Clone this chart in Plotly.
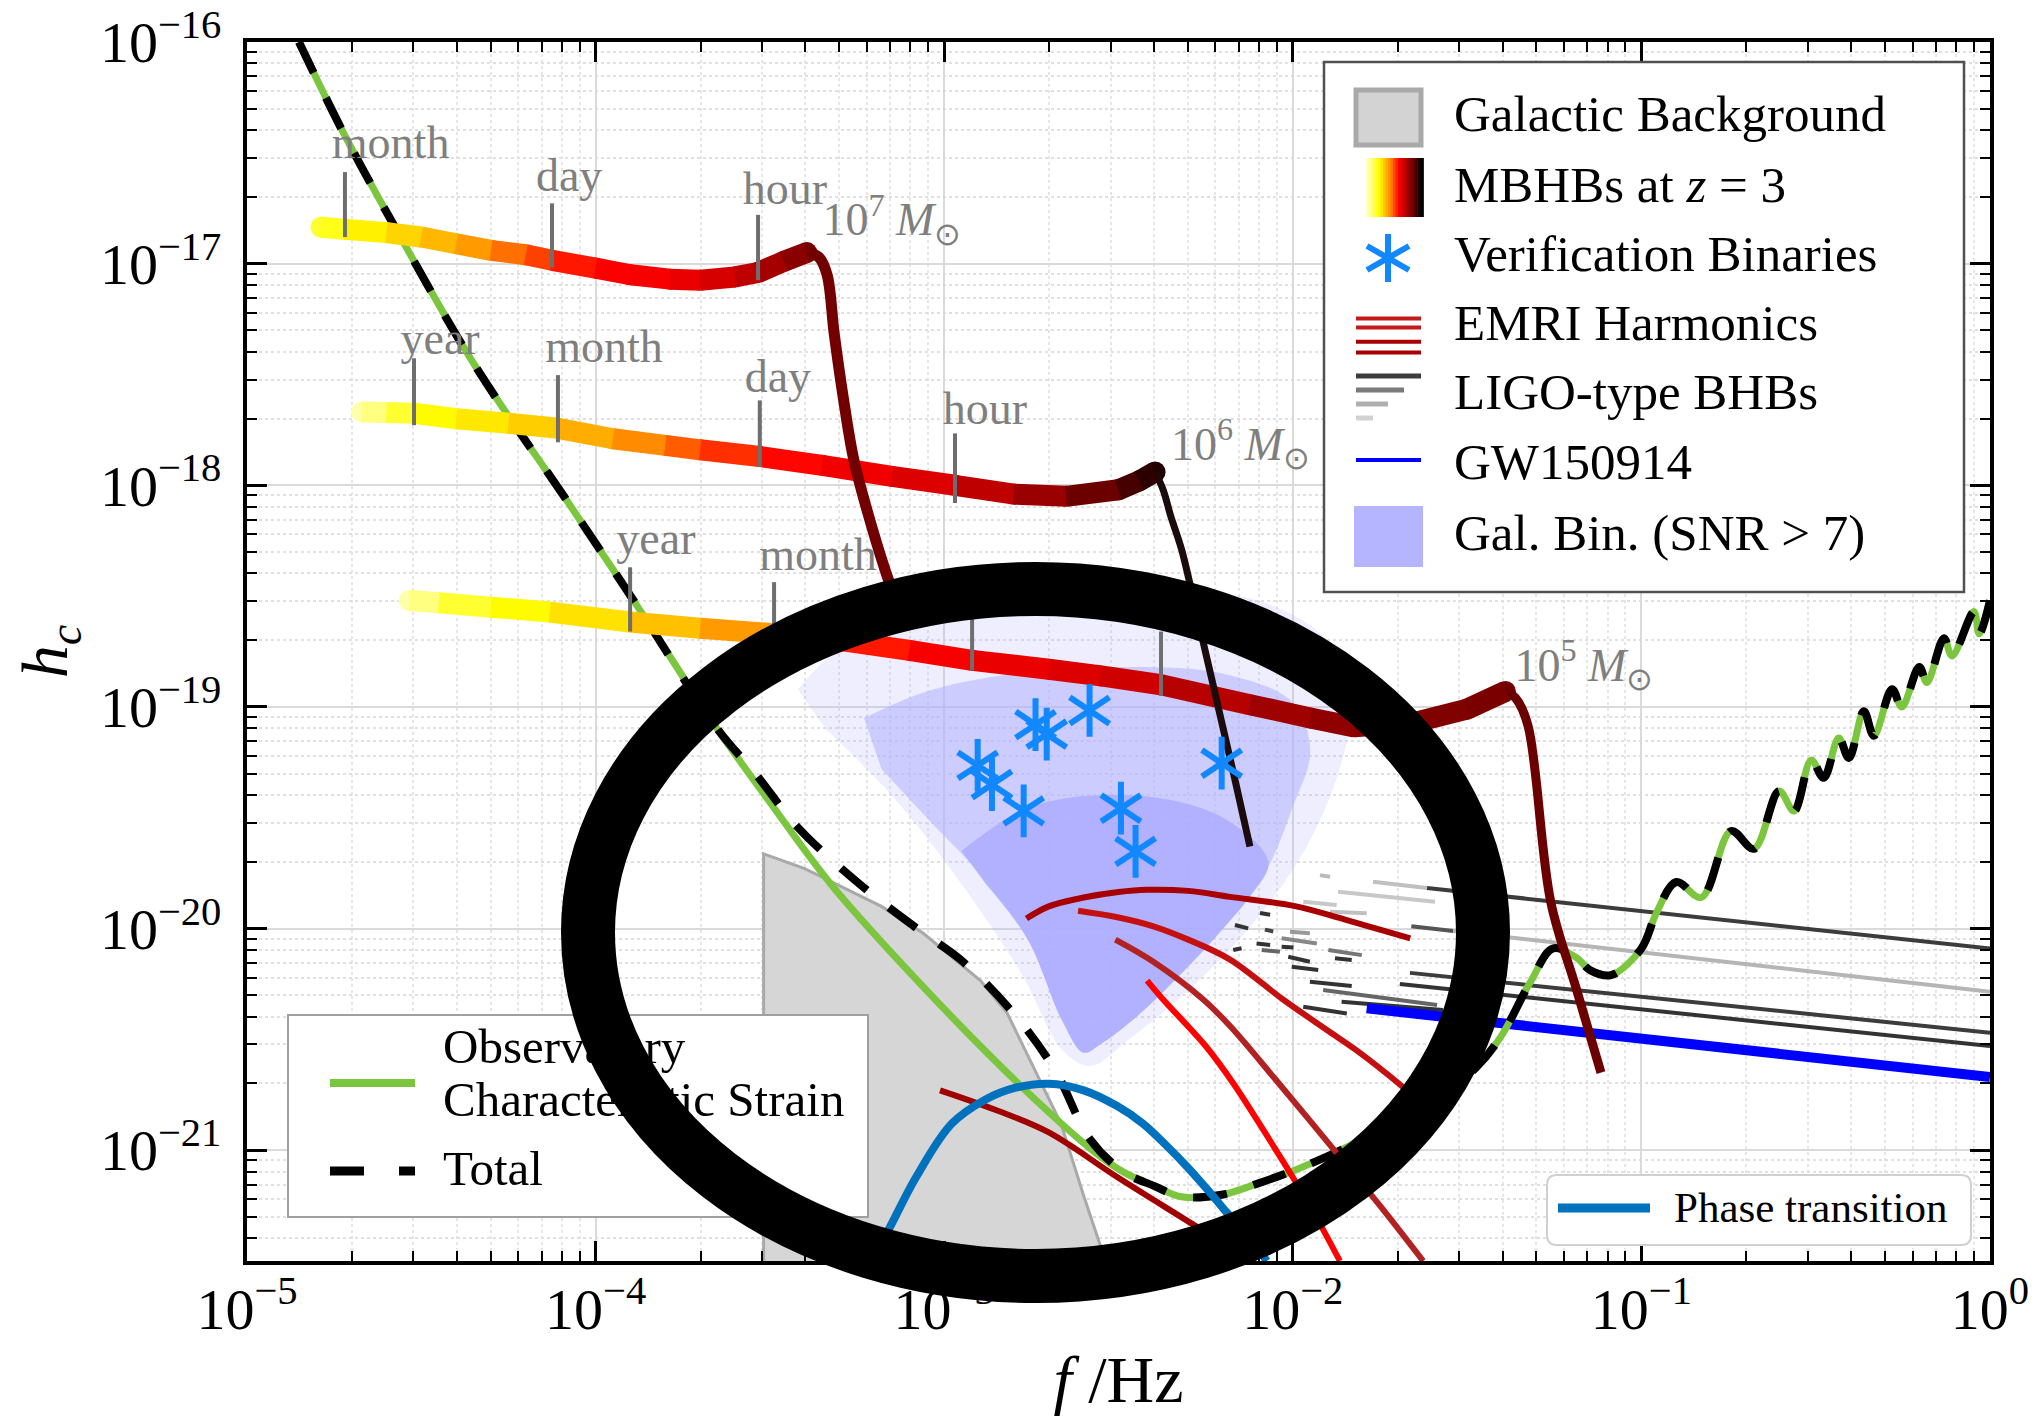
import numpy as np
import plotly.graph_objects as go
from plotly.colors import sample_colorscale

SERIF = "Liberation Serif"

# ------------------------------------------------------------------
# DATA  (log10 f [Hz] and log10 h_c)
# ------------------------------------------------------------------
lisa_logf = [-4.851, -4.72, -4.581, -4.35, -4.082, -3.87, -3.655, -3.50, -3.325, -3.05,
             -2.78, -2.567, -2.484, -2.40, -2.32, -2.20, -2.10, -1.994, -1.85, -1.70,
             -1.55, -1.476, -1.404, -1.318, -1.254, -1.188, -1.145, -1.087, -1.0, -0.957,
             -0.9, -0.828, -0.743, -0.677, -0.605, -0.562, -0.513, -0.477, -0.434, -0.405,
             -0.362, -0.333, -0.281, -0.253, -0.203, -0.181, -0.132, -0.109, -0.046, -0.031, 0.0]
lisa_logh = [-16.0, -16.42, -16.82, -17.45, -18.07, -18.57, -19.09, -19.43, -19.80, -20.28,
             -20.71, -21.01, -21.10, -21.16, -21.21, -21.20, -21.15, -21.09, -20.99, -20.86,
             -20.72, -20.63, -20.49, -20.24, -20.09, -20.13, -20.19, -20.21, -20.09, -19.93,
             -19.79, -19.86, -19.56, -19.64, -19.38, -19.47, -19.24, -19.32, -19.14, -19.23,
             -19.02, -19.13, -18.92, -19.00, -18.82, -18.89, -18.69, -18.77, -18.57, -18.67, -18.52]

total_low_logf = [-4.851, -4.72, -4.581, -4.35, -4.082, -3.87, -3.655, -3.537, -3.422, -3.242,
                  -3.078, -2.946, -2.797, -2.682, -2.582, -2.484]
total_low_logh = [-16.0, -16.42, -16.82, -17.45, -18.07, -18.57, -19.09, -19.31, -19.54, -19.80,
                  -20.00, -20.15, -20.39, -20.64, -20.95, -21.10]

galbg_logf = [-3.518, -3.518, -3.40, -3.308, -3.18, -3.061, -2.96, -2.896, -2.82, -2.764,
              -2.665, -2.599, -2.55, -2.53]
galbg_logh = [-21.6, -19.663, -19.73, -19.80, -19.90, -20.02, -20.15, -20.235, -20.38, -20.56,
              -20.88, -21.21, -21.44, -21.6]

# Gal. Bin. (SNR > 7) cloud: sparse halo, medium-density and dense-core envelopes
galbin_outer_logf = [-3.42, -3.28, -3.10, -2.80, -2.45, -2.10, -1.90, -1.83, -1.86, -1.95,
                     -2.10, -2.30, -2.47, -2.58, -2.66, -2.78, -2.95, -3.15, -3.34]
galbin_outer_logh = [-18.92, -18.70, -18.55, -18.48, -18.47, -18.52, -18.70, -18.95, -19.25, -19.60,
                     -19.95, -20.28, -20.50, -20.62, -20.55, -20.20, -19.80, -19.40, -19.10]
galbin_mid_logf = [-3.23, -3.05, -2.80, -2.50, -2.20, -2.00, -1.95, -2.00, -2.08, -2.20,
                   -2.33, -2.45, -2.55, -2.60, -2.66, -2.76, -2.90, -3.05, -3.18]
galbin_mid_logh = [-19.05, -18.93, -18.85, -18.82, -18.85, -18.98, -19.20, -19.45, -19.75, -20.00,
                   -20.22, -20.40, -20.52, -20.56, -20.42, -20.05, -19.75, -19.50, -19.28]
galbin_core_logf = [-2.95, -2.75, -2.45, -2.20, -2.07, -2.12, -2.20, -2.33, -2.45, -2.55,
                    -2.60, -2.66, -2.76, -2.88]
galbin_core_logh = [-19.65, -19.45, -19.40, -19.50, -19.70, -19.85, -20.00, -20.22, -20.40, -20.52,
                    -20.56, -20.42, -20.05, -19.80]

pt_logf = [-3.21, -3.16, -3.08, -2.978, -2.88, -2.80, -2.70, -2.60, -2.505, -2.43,
           -2.362, -2.30, -2.238, -2.19, -2.12, -2.075]
pt_logh = [-21.5, -21.36, -21.12, -20.88, -20.77, -20.72, -20.70, -20.73, -20.80, -20.88,
           -20.98, -21.08, -21.19, -21.28, -21.40, -21.5]

emri_a_logf = [-2.764, -2.70, -2.60, -2.50, -2.418, -2.30, -2.18, -1.99, -1.85, -1.663]
emri_a_logh = [-19.955, -19.90, -19.86, -19.835, -19.825, -19.83, -19.857, -19.90, -19.96, -20.044]
emri_b_logf = [-2.616, -2.50, -2.40, -2.30, -2.18, -2.028, -1.90, -1.817, -1.684, -1.60]
emri_b_logh = [-19.92, -19.95, -19.99, -20.05, -20.14, -20.32, -20.46, -20.55, -20.715, -20.83]
emri_c_logf = [-2.509, -2.40, -2.257, -2.18, -2.05, -1.874, -1.75, -1.626]
emri_c_logh = [-20.05, -20.15, -20.32, -20.44, -20.68, -21.013, -21.25, -21.5]
emri_d_logf = [-2.418, -2.372, -2.25, -2.17, -2.08, -1.989, -1.93, -1.865]
emri_d_logh = [-20.235, -20.32, -20.53, -20.70, -20.92, -21.15, -21.31, -21.5]
emri_e_logf = [-3.012, -2.85, -2.70, -2.505, -2.276, -2.12]
emri_e_logh = [-20.73, -20.82, -20.92, -21.12, -21.345, -21.5]

ligo_logf0 = [-2.171, -2.166, -2.104, -2.089, -2.032, -2.032, -2.008, -2.013, -2.003, -1.898,
              -1.879, -1.951, -2.094, -2.080, -1.870, -1.970, -1.893, -1.922, -1.770, -1.913,
              -1.860, -1.970, -1.615, -1.660, -1.540, -1.664, -1.693]
ligo_logf1 = [-2.147, -2.128, -2.065, -2.037, -1.931, -1.998, -1.951, -1.951, -1.927, -1.802,
              -1.831, -1.831, -2.065, -2.056, -1.592, -1.874, -1.788, -1.893, -1.615, -1.586,
              -1.569, -1.845, 0.0, -1.540, 0.0, 0.0, 0.0]
ligo_logh0 = [-20.097, -19.984, -20.067, -20.097, -20.044, -20.082, -20.014, -20.127, -20.172, -20.097,
              -20.134, -20.240, -19.930, -20.005, -19.834, -19.879, -19.924, -19.759, -19.789, -20.277,
              -20.330, -20.353, -19.817, -19.99, -20.011, -20.20, -20.25]
ligo_logh1 = [-20.089, -19.999, -20.074, -20.105, -20.067, -20.085, -20.021, -20.150, -20.187, -20.120,
              -20.142, -20.259, -19.938, -20.013, -19.879, -19.894, -19.931, -19.766, -19.817, -20.345,
              -20.368, -20.383, -20.09, -20.011, -20.285, -20.47, -20.53]

gw_logf = [-1.788, 0.0]
gw_logh = [-20.36, -20.67]

vb_logf = [-2.904, -2.863, -2.772, -2.738, -2.706, -2.583, -2.493, -2.451, -2.204]
vb_logh = [-19.264, -19.35, -19.469, -19.08, -19.123, -19.016, -19.457, -19.652, -19.254]

# MBHB tracks at z = 3 (inspiral part, with colour value along the track) and ring-down tails
mbhb7_logf = [-4.788, -4.72, -4.60, -4.50, -4.40, -4.30, -4.20, -4.125, -4.00, -3.90,
              -3.787, -3.70, -3.60, -3.534, -3.46, -3.394]
mbhb7_logh = [-16.836, -16.845, -16.86, -16.88, -16.91, -16.94, -16.96, -16.985, -17.02, -17.05,
              -17.07, -17.075, -17.06, -17.04, -16.99, -16.95]
mbhb7_cval = [0.20, 0.25, 0.30, 0.35, 0.40, 0.45, 0.51, 0.55, 0.60, 0.61,
              0.62, 0.65, 0.69, 0.73, 0.78, 0.83]
tail7_logf = [-3.394, -3.36, -3.336, -3.316, -3.29, -3.26, -3.22, -3.17, -3.12]
tail7_logh = [-16.95, -16.97, -17.05, -17.31, -17.60, -17.88, -18.12, -18.38, -18.60]

mbhb6_logf = [-4.671, -4.60, -4.521, -4.40, -4.25, -4.108, -3.95, -3.80, -3.70, -3.529,
              -3.35, -3.15, -2.969, -2.80, -2.65, -2.50, -2.44, -2.395]
mbhb6_logh = [-17.669, -17.672, -17.675, -17.70, -17.72, -17.743, -17.79, -17.82, -17.84, -17.87,
              -17.91, -17.96, -18.00, -18.04, -18.05, -18.02, -17.98, -17.94]
mbhb6_cval = [0.08, 0.16, 0.24, 0.27, 0.31, 0.36, 0.42, 0.48, 0.52, 0.58,
              0.61, 0.64, 0.68, 0.74, 0.81, 0.88, 0.92, 0.95]
tail6_logf = [-2.395, -2.372, -2.35, -2.319, -2.27, -2.22, -2.17, -2.123]
tail6_logh = [-17.94, -18.02, -18.14, -18.29, -18.62, -18.96, -19.30, -19.63]

mbhb5_logf = [-4.535, -4.45, -4.30, -4.131, -3.901, -3.70, -3.488, -3.30, -3.10, -2.92,
              -2.70, -2.55, -2.378, -2.123, -1.95, -1.824, -1.65, -1.50, -1.39]
mbhb5_logh = [-18.52, -18.53, -18.55, -18.572, -18.617, -18.645, -18.67, -18.70, -18.745, -18.79,
              -18.83, -18.86, -18.90, -18.99, -19.05, -19.09, -19.07, -19.01, -18.93]
mbhb5_cval = [0.08, 0.16, 0.24, 0.27, 0.33, 0.39, 0.46, 0.55, 0.60, 0.62,
              0.65, 0.67, 0.70, 0.75, 0.78, 0.80, 0.81, 0.82, 0.83]
tail5_logf = [-1.39, -1.361, -1.326, -1.26, -1.187, -1.116]
tail5_logh = [-18.93, -18.96, -19.08, -19.88, -20.27, -20.65]

# time-to-merger markers on the tracks
tick_logf = [-4.719, -4.125, -3.534, -4.521, -4.108, -3.529, -2.969, -3.901, -3.488, -2.92, -2.378]
tick_logh_lo = [-16.88, -17.017, -17.075, -17.729, -17.806, -17.918, -18.08, -18.66, -18.69, -18.835, -18.95]
tick_logh_hi = [-16.587, -16.728, -16.78, -17.427, -17.503, -17.617, -17.766, -18.37, -18.437, -18.39, -18.66]

track_label_text = ["month", "day", "hour", "10<sup>7</sup> <i>M</i><sub>⊙</sub>",
                    "year", "month", "day", "hour", "10<sup>6</sup> <i>M</i><sub>⊙</sub>",
                    "year", "month", "day", "hour", "10<sup>5</sup> <i>M</i><sub>⊙</sub>"]
track_label_logf = [-4.588, -4.076, -3.457, -3.150, -4.446, -3.976, -3.477, -2.883, -2.150,
                    -3.827, -3.362, -2.85, -2.31, -1.165]
track_label_logh = [-16.47, -16.62, -16.68, -16.82, -17.355, -17.39, -17.526, -17.67, -17.833,
                    -18.26, -18.33, -18.48, -18.55, -18.83]

x_tick_exp = [-5, -4, -3, -2, -1, 0]
y_tick_exp = [-21, -20, -19, -18, -17, -16]

# ------------------------------------------------------------------
# STYLE
# ------------------------------------------------------------------
GREEN = "#7cc53f"
HOT = [[0.0, "#ffffff"], [0.12, "#ffff80"], [0.25, "#ffff00"], [0.45, "#ff8c00"],
       [0.6, "#ff0000"], [0.8, "#8b0000"], [1.0, "#000000"]]
emri_colors = ["#a80000", "#c41010", "#b22222", "#ff0000", "#a00000"]
ligo_colors = ["#333333", "#333333", "#333333", "#666666", "#888888", "#333333", "#999999", "#333333",
               "#333333", "#777777", "#333333", "#333333", "#333333", "#444444", "#c8c8c8", "#c8c8c8",
               "#c0c0c0", "#bbbbbb", "#c0c0c0", "#666666", "#333333", "#333333", "#3c3c3c", "#555555",
               "#b5b5b5", "#3c3c3c", "#333333"]
VB_BLUE = "#1188ff"


def pw(v):
    return [10.0 ** a for a in v]


fig = go.Figure()

def add_line(lf, lh, color, width, dash=None, fill=None, fillcolor=None, shape="linear"):
    fig.add_trace(go.Scatter(x=pw(lf), y=pw(lh), mode="lines",
                             line=dict(color=color, width=width, dash=dash, shape=shape),
                             fill=fill, fillcolor=fillcolor,
                             hoverinfo="skip", showlegend=False))

# galactic background region
add_line(galbg_logf, galbg_logh, "#a9a9a9", 3, fill="toself", fillcolor="#d6d6d6")
# galactic binaries cloud
add_line(galbin_outer_logf, galbin_outer_logh, "rgba(0,0,0,0)", 0, fill="toself",
         fillcolor="rgba(176,176,255,0.22)", shape="spline")
add_line(galbin_mid_logf, galbin_mid_logh, "rgba(0,0,0,0)", 0, fill="toself",
         fillcolor="rgba(176,176,255,0.55)", shape="spline")
add_line(galbin_core_logf, galbin_core_logh, "rgba(0,0,0,0)", 0, fill="toself",
         fillcolor="rgba(172,172,255,0.85)", shape="spline")
# LIGO-type BHBs
for f0, f1, h0, h1, c in zip(ligo_logf0, ligo_logf1, ligo_logh0, ligo_logh1, ligo_colors):
    add_line([f0, f1], [h0, h1], c, 4)
# GW150914
add_line(gw_logf, gw_logh, "#0000ff", 10)
# sensitivity + total
add_line(lisa_logf, lisa_logh, GREEN, 7, shape="spline")
total_logf = total_low_logf + lisa_logf[13:]
total_logh = total_low_logh + lisa_logh[13:]
add_line(total_logf, total_logh, "#000000", 8, dash="34px,28px", shape="spline")
# EMRIs
for lf, lh, c in zip([emri_a_logf, emri_b_logf, emri_c_logf, emri_d_logf, emri_e_logf],
                     [emri_a_logh, emri_b_logh, emri_c_logh, emri_d_logh, emri_e_logh],
                     emri_colors):
    add_line(lf, lh, c, 6, shape="spline")
# phase transition
add_line(pt_logf, pt_logh, "#0072bd", 8, shape="spline")

# MBHB tracks
def add_track(lf, lh, cv, tf, th, tail_color, tail_width):
    cols = sample_colorscale(HOT, cv)
    fig.add_trace(go.Scatter(x=pw(lf), y=pw(lh), mode="markers",
                             marker=dict(size=21, color=cols, line=dict(width=0)),
                             hoverinfo="skip", showlegend=False))
    add_line(tf, th, tail_color, tail_width, shape="spline")
    for i in range(len(lf) - 1):
        c = sample_colorscale(HOT, [0.5 * (cv[i] + cv[i + 1])])[0]
        add_line(lf[i:i + 2], lh[i:i + 2], c, 21)

add_track(mbhb5_logf, mbhb5_logh, mbhb5_cval, tail5_logf, tail5_logh, "#6b0000", 9)
add_track(mbhb6_logf, mbhb6_logh, mbhb6_cval, tail6_logf, tail6_logh, "#1a0c0c", 7)
add_track(mbhb7_logf, mbhb7_logh, mbhb7_cval, tail7_logf, tail7_logh, "#720000", 11)

# time markers
tx, ty = [], []
for f, lo, hi in zip(tick_logf, tick_logh_lo, tick_logh_hi):
    tx += [10 ** f, 10 ** f, None]
    ty += [10 ** lo, 10 ** hi, None]
fig.add_trace(go.Scatter(x=tx, y=ty, mode="lines", line=dict(color="#6e6e6e", width=4),
                         hoverinfo="skip", showlegend=False))

# verification binaries (six-armed asterisks)
for sym in ["y-up-open", "y-down-open"]:
    fig.add_trace(go.Scatter(x=pw(vb_logf), y=pw(vb_logh), mode="markers",
                             marker=dict(symbol=sym, size=33, color=VB_BLUE,
                                         line=dict(width=6, color=VB_BLUE)),
                             hoverinfo="skip", showlegend=False))

# track labels
fig.add_trace(go.Scatter(x=pw(track_label_logf), y=pw(track_label_logh), mode="text",
                         text=track_label_text, textposition="middle center",
                         textfont=dict(family=SERIF, size=46, color="#7f7f7f"),
                         hoverinfo="skip", showlegend=False))

# ------------------------------------------------------------------
# LAYOUT
# ------------------------------------------------------------------
L, R, T, B = 247, 1990, 42, 1261

def px(X):
    return (X - L) / (R - L)

def py(Y):
    return (B - Y) / (B - T)

x_minor = [m * 10.0 ** k for k in range(-5, 0) for m in range(2, 10)]
y_minor = [m * 10.0 ** k for k in range(-22, -16) for m in range(2, 10)
           if 10 ** -21.5 < m * 10.0 ** k < 1e-16]

axis_common = dict(type="log", showline=True, linecolor="black", linewidth=4, mirror="ticks",
                   ticks="inside", ticklen=20, tickwidth=3, tickcolor="black",
                   showgrid=True, gridcolor="#dadada", gridwidth=2, zeroline=False,
                   automargin=False,
                   tickfont=dict(family=SERIF, size=58, color="black"))

fig.update_xaxes(range=[-5, 0], tickmode="array",
                 tickvals=[10.0 ** e for e in x_tick_exp],
                 ticktext=["10<sup>−%d</sup>" % -e if e < 0 else "10<sup>0</sup>" for e in x_tick_exp],
                 minor=dict(tickvals=x_minor, ticks="inside", ticklen=10, tickwidth=2,
                            tickcolor="black", showgrid=True, gridcolor="#e6e6e6",
                            griddash="dot", gridwidth=2),
                 ticklabelstandoff=-6,
                 title=dict(text="<i>f</i> /Hz", font=dict(family=SERIF, size=66, color="black"),
                            standoff=20),
                 **axis_common)
fig.update_yaxes(range=[-21.5, -16], tickmode="array",
                 tickvals=[10.0 ** e for e in y_tick_exp],
                 ticktext=["10<sup>−%d</sup>" % -e for e in y_tick_exp],
                 minor=dict(tickvals=y_minor, ticks="inside", ticklen=10, tickwidth=2,
                            tickcolor="black", showgrid=True, gridcolor="#e0e0e0",
                            griddash="dot", gridwidth=2),
                 ticklabelstandoff=10,
                 title=dict(text="<i>h<sub>c</sub></i>", font=dict(family=SERIF, size=66, color="black"),
                            standoff=12),
                 **axis_common)

shapes = []
annotations = []

def rect(x0, y0, x1, y1, fill, lc, lw):
    shapes.append(dict(type="rect", xref="paper", yref="paper", layer="above",
                       x0=px(x0), x1=px(x1), y0=py(y1), y1=py(y0),
                       fillcolor=fill, line=dict(color=lc, width=lw)))

def hline(x0, x1, y, color, width):
    shapes.append(dict(type="line", xref="paper", yref="paper", layer="above",
                       x0=px(x0), x1=px(x1), y0=py(y), y1=py(y),
                       line=dict(color=color, width=width)))

def seg(x0, y0, x1, y1, color, width):
    shapes.append(dict(type="line", xref="paper", yref="paper", layer="above",
                       x0=px(x0), x1=px(x1), y0=py(y0), y1=py(y1),
                       line=dict(color=color, width=width)))

def text(x, y, s, size):
    annotations.append(dict(xref="paper", yref="paper", x=px(x), y=py(y), text=s,
                            xanchor="left", yanchor="middle", showarrow=False,
                            font=dict(family=SERIF, size=size, color="black")))

# --- legend 1 (upper right)
rect(1324, 62, 1964, 592, "white", "#505050", 2.5)
rect(1356, 90, 1421, 145, "#d3d3d3", "#a9a9a9", 5)
grad = sample_colorscale(HOT, list(np.linspace(0, 1, 24)))
gx = np.linspace(1363, 1423, 25)
for i, c in enumerate(grad):
    shapes.append(dict(type="rect", xref="paper", yref="paper", layer="above",
                       x0=px(gx[i]), x1=px(gx[i + 1]) + 0.0005, y0=py(217), y1=py(158),
                       fillcolor=c, line=dict(width=0)))
seg(1388, 234, 1388, 282, VB_BLUE, 6)
seg(1367, 246, 1409, 270, VB_BLUE, 6)
seg(1367, 270, 1409, 246, VB_BLUE, 6)
for yy, c in zip([318.6, 327.5, 341.8, 352.5], ["#c41a1a", "#c41a1a", "#a80000", "#a80000"]):
    hline(1356, 1421, yy, c, 4)
for yy, x1, c in zip([376, 390, 404, 418], [1421, 1404, 1388, 1373],
                     ["#3c3c3c", "#7a7a7a", "#b0b0b0", "#d2d2d2"]):
    hline(1356, x1, yy, c, 5)
hline(1356, 1421, 460, "#0000ff", 4)
rect(1354, 506, 1423, 567, "#b4b4ff", "#b4b4ff", 0)
for yy, s in zip([114, 185, 254, 323, 392, 462, 533],
                 ["Galactic Background", "MBHBs at <i>z</i> = 3", "Verification Binaries",
                  "EMRI Harmonics", "LIGO-type BHBs", "GW150914", "Gal. Bin. (SNR > 7)"]):
    text(1452, yy, s, 51)

# --- legend 3 (phase transition, lower right) rounded box
def rounded(x0, y0, x1, y1, r):
    X = lambda v: "%.5f" % px(v)
    Y = lambda v: "%.5f" % py(v)
    p = ("M %s,%s L %s,%s Q %s,%s %s,%s L %s,%s Q %s,%s %s,%s L %s,%s Q %s,%s %s,%s "
         "L %s,%s Q %s,%s %s,%s Z") % (
        X(x0 + r), Y(y0), X(x1 - r), Y(y0), X(x1), Y(y0), X(x1), Y(y0 + r),
        X(x1), Y(y1 - r), X(x1), Y(y1), X(x1 - r), Y(y1),
        X(x0 + r), Y(y1), X(x0), Y(y1), X(x0), Y(y1 - r),
        X(x0), Y(y0 + r), X(x0), Y(y0), X(x0 + r), Y(y0))
    return p

shapes.append(dict(type="path", xref="paper", yref="paper", layer="above",
                   path=rounded(1547, 1175, 1971, 1245, 10), fillcolor="white",
                   line=dict(color="#d0d0d0", width=2)))
hline(1558, 1650, 1208, "#0072bd", 9)
text(1672, 1207, "Phase transition", 43)

# --- legend 2 (lower left) : drawn as shapes so the ring covers it
rect(288, 1015, 868, 1217, "white", "#a0a0a0", 2)
hline(330, 415, 1083, GREEN, 8)
hline(330, 364, 1171, "black", 9)
hline(399, 415, 1171, "black", 9)
for y0, y1, s in [(1016, 1066, "Observatory"), (1069, 1119, "Characteristic Strain"),
                  (1138, 1188, "Total")]:
    shapes.append(dict(type="rect", xref="paper", yref="paper", layer="above",
                       x0=px(440), x1=px(866), y0=py(y1), y1=py(y0),
                       fillcolor="rgba(0,0,0,0)", line=dict(width=0),
                       label=dict(text=s, textposition="middle left", padding=0,
                                  font=dict(family=SERIF, size=49, color="black"))))

# --- black ring overlay
shapes.append(dict(type="circle", xref="paper", yref="paper", layer="above",
                   x0=px(588), x1=px(1483), y0=py(1276), y1=py(589),
                   fillcolor="rgba(0,0,0,0)", line=dict(color="black", width=54)))

fig.update_layout(width=2036, height=1416, autosize=False,
                  margin=dict(l=L, r=2036 - R, t=T, b=1416 - B, pad=0, autoexpand=False),
                  paper_bgcolor="white", plot_bgcolor="white",
                  shapes=shapes, annotations=annotations, showlegend=False,
                  font=dict(family=SERIF, color="black"))

fig.write_html("out.html")
